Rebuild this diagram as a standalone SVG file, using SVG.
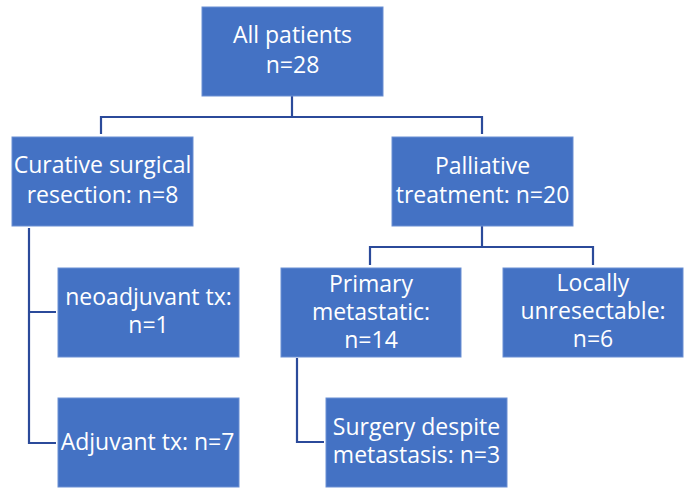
<svg xmlns="http://www.w3.org/2000/svg" width="697" height="495" viewBox="0 0 697 495">
<style>
.box{fill:#4472C4;stroke:#6A8FD3;stroke-width:1}
.t{font-family:"Open Sans","Liberation Sans",Arial,sans-serif;font-size:23px;fill:#ffffff;text-anchor:middle}
.c{fill:none;stroke:#2B4A9A;stroke-width:2.2}
</style>
<rect width="697" height="495" fill="#ffffff"/>
<g id="connectors">
<path class="c" d="M292 96 V117 M101 134 V117 H482 V134"/>
<path class="c" d="M482 226 V247 M370 265 V247 H593 V265"/>
<path class="c" d="M29 228 V443 H56 M29 312 H56"/>
<path class="c" d="M297 358 V442 H324"/>
</g>
<g id="all"><rect class="box" x="202" y="7" width="181" height="89"/>
<text class="t" x="292.5" y="43">All patients</text><text class="t" x="292.5" y="73">n=28</text></g>
<g id="curative"><rect class="box" x="12" y="137" width="181" height="89"/>
<text class="t" x="102.5" y="173">Curative surgical</text><text class="t" x="102.5" y="203">resection: n=8</text></g>
<g id="palliative"><rect class="box" x="392" y="137" width="181" height="89"/>
<text class="t" x="482.5" y="174">Palliative</text><text class="t" x="482.5" y="203">treatment: n=20</text></g>
<g id="neoadjuvant"><rect class="box" x="58" y="268" width="181" height="89"/>
<text class="t" x="148.5" y="305">neoadjuvant tx:</text><text class="t" x="148.5" y="333">n=1</text></g>
<g id="adjuvant"><rect class="box" x="58" y="398" width="181" height="89"/>
<text class="t" x="147.5" y="450">Adjuvant tx: n=7</text></g>
<g id="primary"><rect class="box" x="281" y="268" width="180" height="89"/>
<text class="t" x="371" y="292">Primary</text><text class="t" x="371" y="320">metastatic:</text><text class="t" x="371" y="348">n=14</text></g>
<g id="locally"><rect class="box" x="503" y="268" width="180" height="89"/>
<text class="t" x="593" y="291">Locally</text><text class="t" x="593" y="319">unresectable:</text><text class="t" x="593" y="347">n=6</text></g>
<g id="surgery"><rect class="box" x="326" y="398" width="181" height="89"/>
<text class="t" x="416.5" y="435">Surgery despite</text><text class="t" x="416.5" y="463">metastasis: n=3</text></g>
</svg>
